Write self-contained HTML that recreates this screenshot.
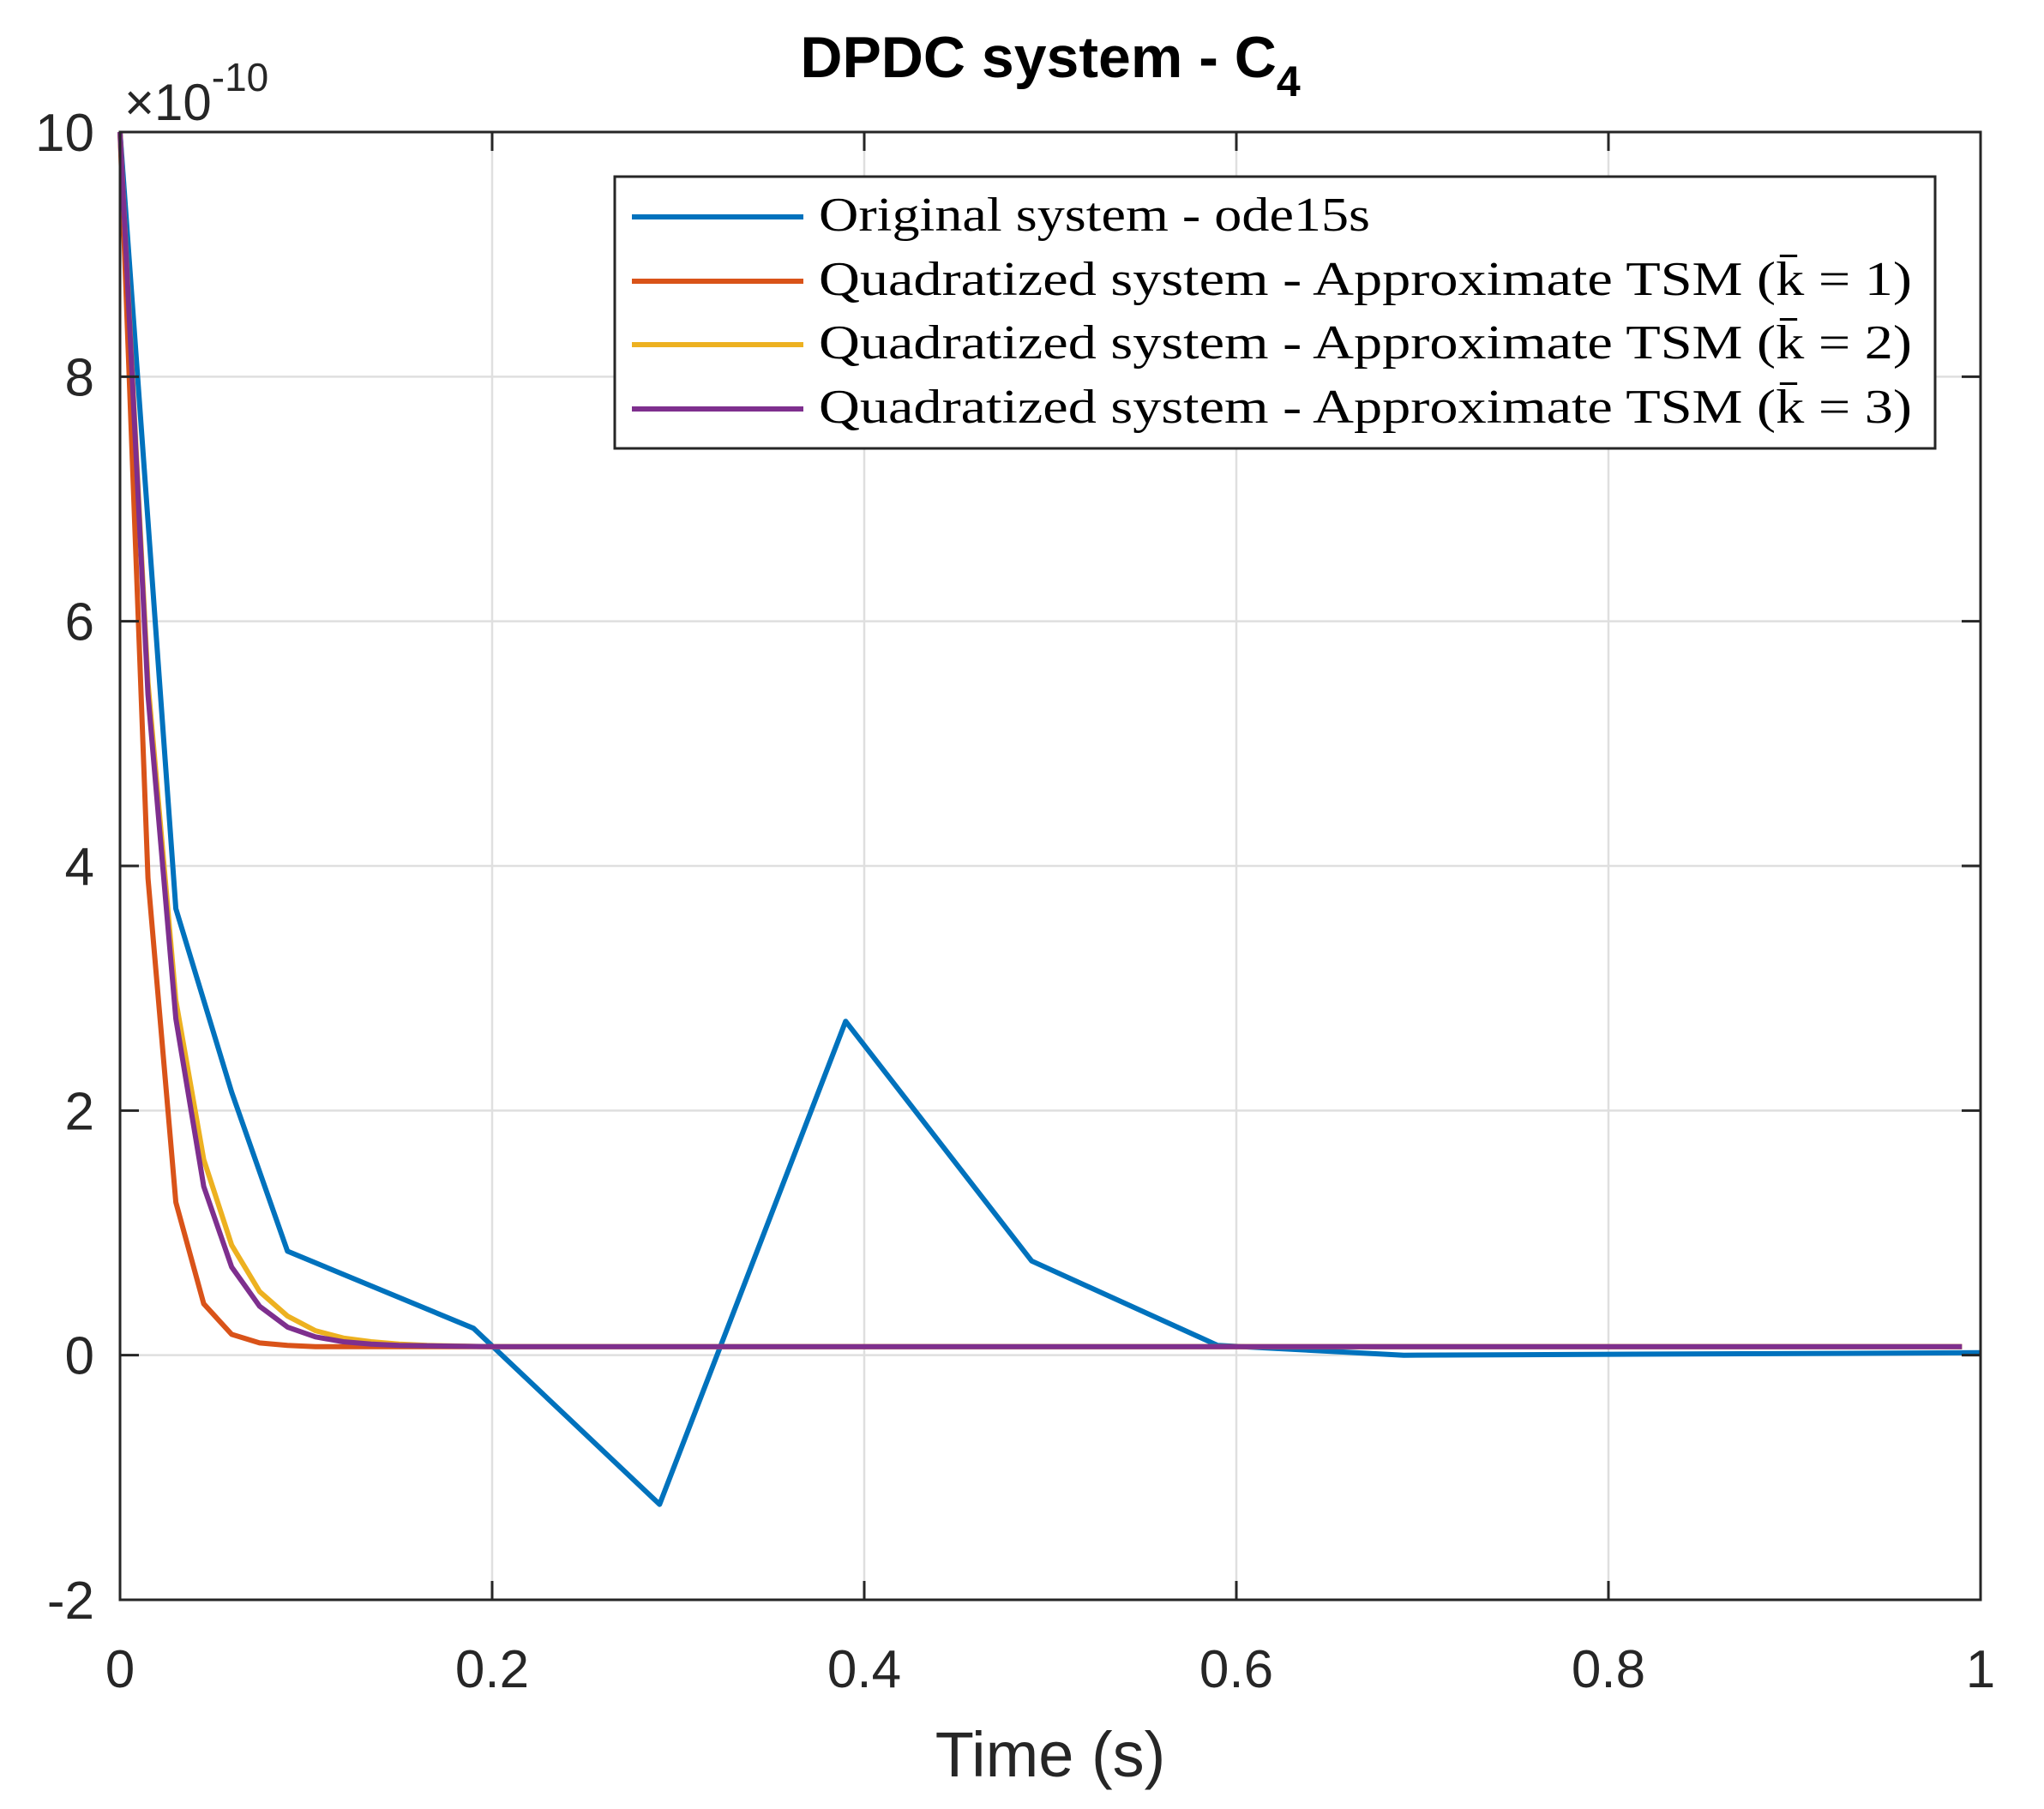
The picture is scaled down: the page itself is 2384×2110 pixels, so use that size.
<!DOCTYPE html>
<html><head><meta charset="utf-8"><style>
html,body{margin:0;padding:0;background:#fff}
svg{display:block}
</style></head><body>
<svg id="chart" width="2384" height="2110" viewBox="0 0 2384 2110" xmlns="http://www.w3.org/2000/svg">
<rect width="2384" height="2110" fill="#fff"/>
<g id="grid"></g>
<g id="series"></g>
<g id="axes"></g>
<text x="1225" y="90" text-anchor="middle" font-family="Liberation Sans, sans-serif" font-weight="bold" font-size="68" fill="#000">DPDC system - C<tspan font-size="50" dy="22">4</tspan></text>
<text x="1225" y="2072" text-anchor="middle" font-family="Liberation Sans, sans-serif" font-size="74" fill="#262626">Time (s)</text>
<text x="145" y="140" font-family="Liberation Sans, sans-serif" font-size="60" fill="#262626">×10<tspan font-size="46" dy="-34">-10</tspan></text>
<g>
<rect x="717" y="206" width="1540" height="317" fill="#fff" stroke="#262626" stroke-width="3"/>
<g id="legend-entries"></g>
</g>
</svg>
<script>
const xTicks=[0,0.2,0.4,0.6,0.8,1];
const xTickLabels=["0","0.2","0.4","0.6","0.8","1"];
const yTicks=[-2,0,2,4,6,8,10];
const yTickLabels=["-2","0","2","4","6","8","10"];
const seriesNames=["Original system - ode15s","Quadratized system - Approximate TSM (k̄ = 1)","Quadratized system - Approximate TSM (k̄ = 2)","Quadratized system - Approximate TSM (k̄ = 3)"];
const seriesColors=["#0072BD","#D95319","#EDB120","#7E2F8E"];
const blueT=[0,0.03,0.06,0.09,0.19,0.29,0.39,0.49,0.59,0.69,1.0];
const blueY=[10,3.65,2.15,0.85,0.22,-1.22,2.73,0.77,0.08,0.0,0.02];
const orangeT=[0,0.015,0.03,0.045,0.06,0.075,0.09,0.105,0.2,0.5,0.99];
const orangeY=[10,3.9,1.25,0.42,0.17,0.1,0.08,0.07,0.07,0.07,0.07];
const yellowT=[0,0.015,0.03,0.045,0.06,0.075,0.09,0.105,0.12,0.135,0.15,0.165,0.2,0.5,0.99];
const yellowY=[10,5.5,2.9,1.6,0.9,0.52,0.32,0.2,0.14,0.11,0.09,0.08,0.07,0.07,0.07];
const purpleT=[0,0.015,0.03,0.045,0.06,0.075,0.09,0.105,0.12,0.135,0.15,0.2,0.5,0.99];
const purpleY=[10,5.4,2.75,1.38,0.72,0.4,0.23,0.15,0.11,0.09,0.08,0.07,0.07,0.07];

const L=140,R=2310,T=154,B=1866;
const xs=v=>L+(v-0)/(1-0)*(R-L);
const ys=v=>B-(v+2)/12*(B-T);
const NS="http://www.w3.org/2000/svg";
function mk(tag,attrs,parent){const e=document.createElementNS(NS,tag);for(const k in attrs)e.setAttribute(k,attrs[k]);parent.appendChild(e);return e;}
const grid=document.getElementById('grid'),axes=document.getElementById('axes'),ser=document.getElementById('series');
xTicks.forEach((v,i)=>{
 const gl=mk('line',{x1:xs(v),x2:xs(v),y1:T,y2:B,stroke:'#dfdfdf','stroke-width':2.5},grid);
 
 
 const tb=mk('line',{x1:xs(v),x2:xs(v),y1:B,y2:B-22,stroke:'#262626','stroke-width':3},axes);
 
 
 const tt=mk('line',{x1:xs(v),x2:xs(v),y1:T,y2:T+22,stroke:'#262626','stroke-width':3},axes);
 
 
 const t=mk('text',{x:xs(v),y:1968,'text-anchor':'middle','font-family':'Liberation Sans, sans-serif','font-size':62,fill:'#262626'},axes);
 t.textContent=xTickLabels[i];
 
 
});
yTicks.forEach((v,i)=>{
 const gl=mk('line',{x1:L,x2:R,y1:ys(v),y2:ys(v),stroke:'#dfdfdf','stroke-width':2.5},grid);
 
 
 const tl=mk('line',{x1:L,x2:L+22,y1:ys(v),y2:ys(v),stroke:'#262626','stroke-width':3},axes);
 
 
 const tr=mk('line',{x1:R,x2:R-22,y1:ys(v),y2:ys(v),stroke:'#262626','stroke-width':3},axes);
 
 
 const t=mk('text',{x:110,y:ys(v)+22,'text-anchor':'end','font-family':'Liberation Sans, sans-serif','font-size':62,fill:'#262626'},axes);
 t.textContent=yTickLabels[i];
 
 
});
const box=mk('rect',{x:L,y:T,width:R-L,height:B-T,fill:'none',stroke:'#262626','stroke-width':3},axes);


const all=[[blueT,blueY],[orangeT,orangeY],[yellowT,yellowY],[purpleT,purpleY]];
const snames=['series-original','series-k1','series-k2','series-k3'];
all.forEach((s,i)=>{
 const pts=s[0].map((t,j)=>xs(t).toFixed(1)+','+ys(s[1][j]).toFixed(1)).join(' ');
 const p=mk('polyline',{points:pts,fill:'none',stroke:seriesColors[i],'stroke-width':6,'stroke-linejoin':'round'},ser);
 
 
});
const le=document.getElementById('legend-entries');
const ly=[253,328,402,477];
seriesNames.forEach((n,i)=>{
 const ln=mk('line',{x1:737,x2:937,y1:ly[i],y2:ly[i],stroke:seriesColors[i],'stroke-width':6},le);
 
 
 const t=mk('text',{x:955,y:ly[i]+16,'font-family':'Liberation Serif, serif','font-size':56,fill:'#000',textLength:i==0?643:1275,lengthAdjust:'spacingAndGlyphs'},le);
 t.textContent=n;
 
 
});
</script>
</body></html>
